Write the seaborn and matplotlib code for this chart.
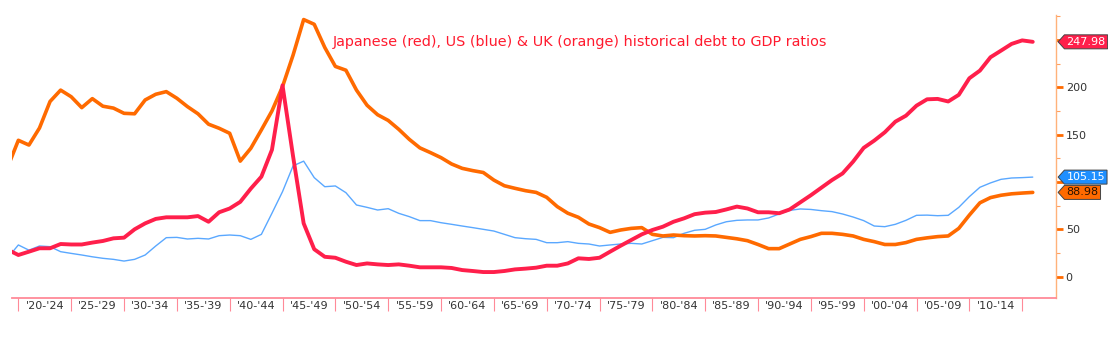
import numpy as np
import pandas as pd
import matplotlib
matplotlib.use("Agg")
import matplotlib.pyplot as plt
from matplotlib.path import Path
import seaborn as sns

# ---------------- data ----------------
years = list(range(1919, 2017))

japan = [28.5, 22.9, 26.4, 30, 30, 34.5, 34, 34, 36, 37.7,
         40.5, 41.2, 50, 56.3, 61, 62.7, 62.7, 62.7, 64, 58,
         68, 72, 79, 93, 105.6, 134, 202, 127, 56.3, 29,
         21, 20, 15.8, 12.3, 14, 13, 12.3, 13, 11.6, 9.9,
         9.9, 9.9, 9.2, 7, 6, 4.9, 4.9, 6, 7.7, 8.5,
         9.5, 11.6, 11.6, 14, 19.4, 18.7, 20, 26.4, 32.7, 38.7,
         44.7, 49.3, 52.8, 58, 61.6, 66, 67.6, 68.3, 71, 74,
         72, 68, 68, 67, 71, 78.5, 86, 94, 102, 109,
         121.5, 136, 143.7, 152.5, 163.7, 170, 180.6, 187.3, 187.7, 185,
         192, 209.5, 217.6, 231.7, 238.7, 245.8, 249.5, 247.98]

us = [20, 33.5, 28, 32.4, 31.7, 26.4, 24.6, 22.9, 21, 19.4,
      18.3, 16.5, 18.3, 22.9, 32.4, 41.2, 41.5, 39.8, 40.5, 39.8,
      43.3, 44, 43.3, 39.4, 44.7, 67, 89.8, 117, 122, 104.6,
      95, 95.8, 88.7, 75.7, 73.2, 70.4, 71.8, 66.9, 63.4, 59.2,
      59.2, 57, 55.3, 53.5, 51.8, 50, 48.2, 44.7, 41.2, 40.1,
      39.4, 35.9, 35.9, 37, 35.2, 34.5, 32.4, 33.5, 34.5, 35.2,
      34.5, 38, 41.5, 41.2, 45.8, 49, 50, 54.6, 58, 59.5,
      59.9, 59.9, 62, 66.2, 70, 71.5, 71, 69.7, 68.7, 66.2,
      63, 59.2, 53.5, 52.8, 55.3, 59.5, 64.8, 65, 64.4, 64.8,
      73.2, 84.5, 94.4, 99, 102.8, 104.2, 104.6, 105.15]

uk = [116, 144, 139, 157, 185, 197, 190, 178.5, 188, 180,
      178, 172.5, 172, 186.6, 192.6, 195.4, 188.4, 179.6, 172, 161,
      156.7, 151.4, 122, 135.6, 155, 175, 200.7, 234, 271.5, 266.5,
      242, 222, 218, 197, 181, 171, 165, 155.6, 145, 136,
      131, 125.7, 119, 114.4, 112, 110, 102, 96, 93.3, 90.8,
      89, 83.8, 74, 67, 62.7, 55.6, 51.8, 46.8, 49.3, 51,
      51.8, 44.7, 43, 44, 43.3, 43, 43.3, 43, 41.5, 40,
      38, 34, 29.6, 29.6, 34.5, 39.4, 42.3, 45.8, 45.8, 44.7,
      43, 39.4, 37, 34, 34, 36, 39.4, 41, 42.3, 43,
      51, 65, 78, 83.5, 86, 87.5, 88.3, 88.98]

xtick_labels = ["'20-'24", "'25-'29", "'30-'34", "'35-'39", "'40-'44",
                "'45-'49", "'50-'54", "'55-'59", "'60-'64", "'65-'69",
                "'70-'74", "'75-'79", "'80-'84", "'85-'89", "'90-'94",
                "'95-'99", "'00-'04", "'05-'09", "'10-'14"]
ytick_values = [0, 50, 100, 150, 200, 250]
# 100 and 250 are hidden behind the value tags in the original
ytick_labels = ["0", "50", "", "150", "200", ""]

title = "Japanese (red), US (blue) & UK (orange) historical debt to GDP ratios"

# ---------------- style ----------------
sns.set_style("white")
plt.rcParams['font.family'] = ['DejaVu Sans']

RED = "#FF1F4B"
BLUE = "#5AA8FF"
ORANGE = "#FF6A00"
PINK = "#FF8A98"

df = pd.DataFrame({"year": years, "Japan": japan, "US": us, "UK": uk})

fig = plt.figure(figsize=(11.08, 3.38), dpi=100)
ax = fig.add_axes([0.01056, 0.1192, 0.9425, 0.8364])

sns.lineplot(data=df, x="year", y="US", ax=ax, color=BLUE, linewidth=1.0, zorder=3)
sns.lineplot(data=df, x="year", y="UK", ax=ax, color=ORANGE, linewidth=2.6, zorder=4)
sns.lineplot(data=df, x="year", y="Japan", ax=ax, color=RED, linewidth=2.8, zorder=5)

ax.set_xlim(1919.37, 2018.2)
ax.set_ylim(-22.2, 276.3)
ax.set_xlabel("")
ax.set_ylabel("")

# spines
for s in ["left", "top"]:
    ax.spines[s].set_visible(False)
ax.spines["bottom"].set_color(PINK)
ax.spines["bottom"].set_linewidth(1.3)
ax.spines["right"].set_color("#FFB27A")
ax.spines["right"].set_linewidth(1.0)

# x axis: group labels, yearly minor ticks, tall group boundary ticks
group_starts = [1920 + 5 * i for i in range(len(xtick_labels))]
ax.set_xticks([g + 2.5 for g in group_starts])
ax.set_xticklabels(xtick_labels)
ax.set_xticks(np.arange(1920, 2019), minor=True)
ax.tick_params(axis="x", which="major", length=0, pad=2.5, labelsize=8, labelcolor="#333333")
ax.tick_params(axis="x", which="minor", length=4, width=0.8, color=PINK, direction="out")

sec = ax.secondary_xaxis("bottom")
sec.set_xticks(group_starts + [group_starts[-1] + 5])
sec.tick_params(axis="x", length=9, width=0.8, color=PINK, labelbottom=False)
sec.spines["bottom"].set_visible(False)

# y axis on right
ax.yaxis.tick_right()
ax.set_yticks(ytick_values)
ax.set_yticklabels(ytick_labels)
ax.set_yticks(np.arange(25, 276, 50), minor=True)
ax.tick_params(axis="y", which="major", length=5, width=2.0, color=ORANGE, pad=2,
               labelsize=8, labelcolor="#333333")
ax.tick_params(axis="y", which="minor", length=3, width=0.8, color="#FFA060")

ax.grid(False)

# title inside plot
ax.text(0.3077, 0.9045, title, transform=ax.transAxes, ha="left", va="center",
        fontsize=10.4, color="#FF1A2E")


# value tags
def tag_box(x0, y0, width, height, mutation_size):
    pad = mutation_size * 0.18
    x0 -= pad
    y0 -= pad
    width += 2 * pad
    height += 2 * pad
    x1 = x0 + width
    y1 = y0 + height
    tip = height * 0.45
    verts = [(x0 - tip, y0 + height / 2), (x0, y1), (x1, y1), (x1, y0), (x0, y0),
             (x0 - tip, y0 + height / 2)]
    return Path(verts, closed=True)


for series, fc, tc in [(japan, RED, "white"), (us, "#1E8FFF", "white"), (uk, ORANGE, "#2a1200")]:
    v = series[-1]
    ax.annotate(f"{v:.2f}", xy=(1, v), xycoords=("axes fraction", "data"),
                xytext=(7.5, 0), textcoords="offset points", ha="left", va="center",
                fontsize=8, color=tc, zorder=10, annotation_clip=False,
                bbox=dict(boxstyle=tag_box, fc=fc, ec="#444444", lw=0.7))

fig.savefig("out.png", dpi=100)
